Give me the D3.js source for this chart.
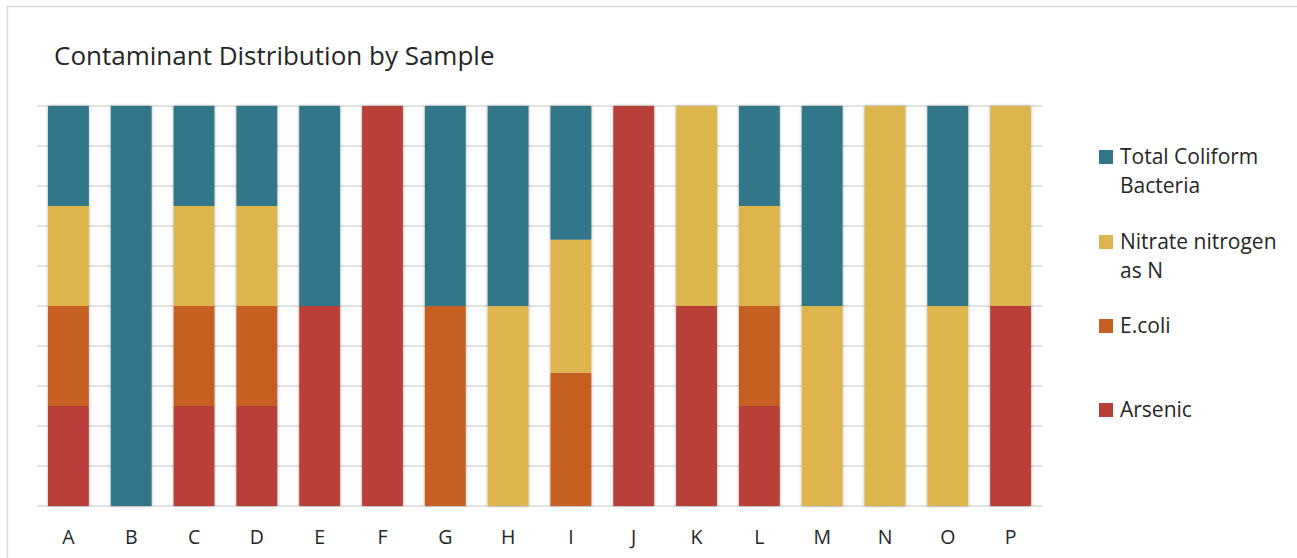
<!DOCTYPE html>
<html>
<head>
<meta charset="utf-8">
<script src="https://cdn.jsdelivr.net/npm/d3@7"></script>
<style>
  html, body { margin: 0; padding: 0; background: #ffffff; }
  svg { display: block; }
</style>
</head>
<body>
<svg id="chart" width="1297" height="558"></svg>
<script>
const categories = ["A","B","C","D","E","F","G","H","I","J","K","L","M","N","O","P"];
const seriesNames = ["Arsenic", "E.coli", "Nitrate nitrogen as N", "Total Coliform Bacteria"];
const arsenic  = [25, 0, 25, 25, 50, 100, 0, 0, 0, 100, 50, 25, 0, 0, 0, 50];
const ecoli    = [25, 0, 25, 25, 0, 0, 50, 0, 33.3, 0, 0, 25, 0, 0, 0, 0];
const nitrate  = [25, 0, 25, 25, 0, 0, 0, 50, 33.3, 0, 50, 25, 50, 100, 50, 50];
const coliform = [25, 100, 25, 25, 50, 0, 50, 50, 33.4, 0, 0, 25, 50, 0, 50, 0];
const colors = ["#b83f37", "#c55f22", "#ddb54e", "#31768a"];
const legendOrder = [
  {name: "Total Coliform Bacteria", lines: ["Total Coliform", "Bacteria"], color: "#31768a"},
  {name: "Nitrate nitrogen as N", lines: ["Nitrate nitrogen", "as N"], color: "#ddb54e"},
  {name: "E.coli", lines: ["E.coli"], color: "#c55f22"},
  {name: "Arsenic", lines: ["Arsenic"], color: "#b83f37"}
];

const data = categories.map((c, i) => ({
  cat: c,
  "Arsenic": arsenic[i],
  "E.coli": ecoli[i],
  "Nitrate nitrogen as N": nitrate[i],
  "Total Coliform Bacteria": coliform[i]
}));

const svg = d3.select("#chart");
const font = "'Open Sans', sans-serif";

// frame
svg.append("rect").attr("x", 7.5).attr("y", 6.5).attr("width", 1300).attr("height", 560)
  .attr("fill", "#fff").attr("stroke", "#d9d9d9").attr("stroke-width", 1.5);

// shadow filter
const defs = svg.append("defs");
const f = defs.append("filter").attr("id", "sh").attr("x", "-20%").attr("y", "-5%").attr("width", "140%").attr("height", "110%");
f.append("feDropShadow").attr("dx", 0).attr("dy", 0).attr("stdDeviation", 1.6).attr("flood-color", "#000").attr("flood-opacity", 0.35);

const margin = {left: 37, right: 1042, top: 106, bottom: 506};
const x = d3.scaleBand().domain(categories).range([margin.left, margin.right]).paddingInner(0.35).paddingOuter(0.175);
const y = d3.scaleLinear().domain([0, 100]).range([margin.bottom, margin.top]);

// gridlines
const ticks = d3.range(0, 101, 10);
svg.append("g").selectAll("line").data(ticks).join("line")
  .attr("x1", margin.left).attr("x2", margin.right)
  .attr("y1", d => y(d)).attr("y2", d => y(d))
  .attr("stroke", "#d9d9d9").attr("stroke-width", 1.5);

// stacked bars
const stack = d3.stack().keys(seriesNames)(data);
const layers = svg.append("g").attr("filter", "url(#sh)");
stack.forEach((layer, li) => {
  layers.append("g").attr("fill", colors[li])
    .selectAll("rect").data(layer.filter(d => d[1] - d[0] > 0)).join("rect")
    .attr("x", d => x(d.data.cat))
    .attr("width", x.bandwidth())
    .attr("y", d => y(d[1]))
    .attr("height", d => y(d[0]) - y(d[1]));
});

// x axis labels
const xAxis = d3.axisBottom(x).tickSize(0).tickPadding(0);
const gx = svg.append("g").attr("transform", `translate(0, ${margin.bottom})`).call(xAxis);
gx.select(".domain").remove();
gx.selectAll("text").attr("y", 31).attr("dy", "0.35em")
  .attr("font-family", font).attr("font-size", 19.5).attr("fill", "#262626");

// title
svg.append("text").attr("x", 54).attr("y", 65).text("Contaminant Distribution by Sample")
  .attr("font-family", font).attr("font-size", 26).attr("fill", "#262626");

// legend
const legendY = [157, 242, 326, 410];
const lg = svg.append("g");
legendOrder.forEach((d, i) => {
  const g = lg.append("g").attr("transform", `translate(1099, ${legendY[i]})`);
  g.append("rect").attr("x", 0).attr("y", -7).attr("width", 14).attr("height", 14).attr("fill", d.color);
  d.lines.forEach((t, j) => {
    g.append("text").attr("x", 21).attr("y", j * 29).attr("dy", "0.35em").text(t)
      .attr("font-family", font).attr("font-size", 21).attr("fill", "#262626");
  });
});
</script>
</body>
</html>
